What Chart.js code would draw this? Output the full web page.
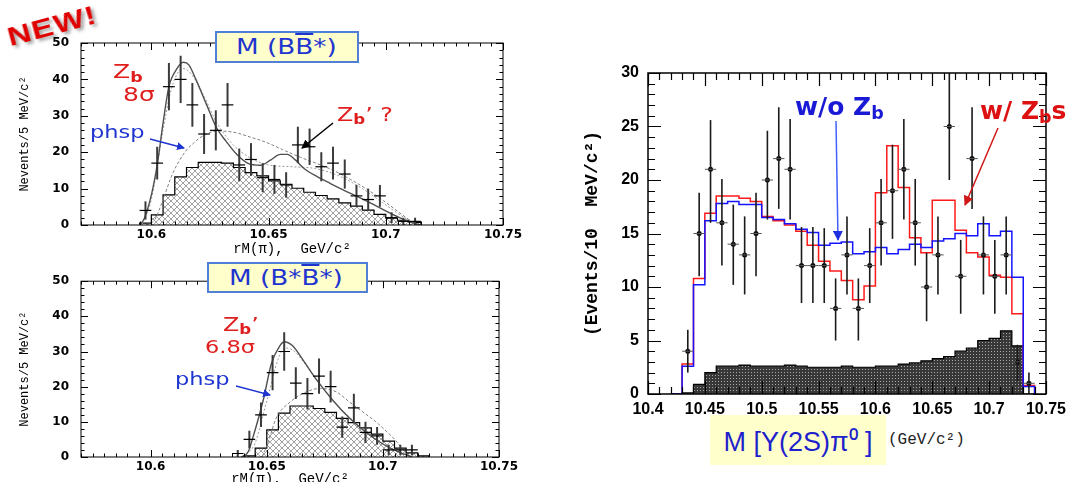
<!DOCTYPE html>
<html>
<head>
<meta charset="utf-8">
<script src="https://cdn.jsdelivr.net/npm/chart.js@4.4.0/dist/chart.umd.min.js"></script>
<style>
body { margin: 0; width: 1072px; height: 482px; overflow: hidden; background: #fff; position: relative; font-family: 'DejaVu Sans', sans-serif; }
canvas { position: absolute; }
#c1 { left: 0; top: 0; }
#c2 { left: 0; top: 262px; }
#c3 { left: 570px; top: 50px; }
.ov { position: absolute; white-space: nowrap; line-height: 1; }
.sx { display: inline-block; transform: scaleX(1.25); transform-origin: 0 50%; }
.red { color: #e01e1e; }
.blue { color: #1f35d0; }
sub { font-size: 0.7em; vertical-align: -0.25em; font-weight: bold; }
.box { position: absolute; background: #ffffcc; border: 2px solid #4f7fd6; box-sizing: border-box; color: #1f35d0; font-size: 21px; display: flex; align-items: center; justify-content: center; }
.ob { text-decoration: overline; }
#new { left: 12px; top: 22px; font: bold 26px 'Liberation Sans', sans-serif; color: #e00000; transform: rotate(-15deg) scaleX(1.25); transform-origin: 0 100%; text-shadow: 2px 3px 3px rgba(0,0,0,0.35); letter-spacing: 1px; }
#mass { position: absolute; left: 710px; top: 415px; width: 176px; height: 50px; background: #ffffcc; color: #1f1fcc; font: 27px 'Liberation Sans', sans-serif; display: flex; align-items: center; justify-content: center; }
#unit { left: 888px; top: 431px; font: 16px 'Liberation Mono', monospace; color: #222; }
svg { position: absolute; left: 0; top: 0; }
</style>
</head>
<body>
<canvas id="c1" width="530" height="260"></canvas>
<canvas id="c2" width="530" height="230"></canvas>
<canvas id="c3" width="502" height="380"></canvas>

<div class="ov" id="new">NEW!</div>
<div class="box" style="left:215px;top:31px;width:144px;height:32px;"><span class="sx" style="margin-left:-22px">M (B<span class="ob">B</span>*)</span></div>
<div class="box" style="left:207px;top:262px;width:161px;height:31px;"><span class="sx" style="margin-left:-26px">M (B*<span class="ob">B</span>*)</span></div>

<div class="ov red" style="left:113px;top:61px;font-size:20px;"><span class="sx">Z<sub>b</sub></span></div>
<div class="ov red" style="left:123px;top:84px;font-size:20px;"><span class="sx">8σ</span></div>
<div class="ov blue" style="left:90px;top:123px;font-size:18px;"><span class="sx">phsp</span></div>
<div class="ov red" style="left:337px;top:105px;font-size:19px;"><span class="sx">Z<sub>b</sub>’ ?</span></div>

<div class="ov red" style="left:223px;top:315px;font-size:19px;"><span class="sx">Z<sub>b</sub>’</span></div>
<div class="ov red" style="left:205px;top:338px;font-size:18px;"><span class="sx">6.8σ</span></div>
<div class="ov blue" style="left:175px;top:370px;font-size:18px;"><span class="sx">phsp</span></div>

<div class="ov" style="left:795px;top:92px;font:bold 25px 'DejaVu Sans',sans-serif;color:#1a1ad6;">w/o Z<sub>b</sub></div>
<div class="ov" style="left:980px;top:96px;font:bold 25px 'DejaVu Sans',sans-serif;color:#dd1111;">w/ Z<sub>b</sub>s</div>

<div id="mass">M [Υ(2S)π⁰ ]</div>
<div class="ov" id="unit">(GeV/c²)</div>

<svg width="1072" height="482">
  <defs>
    <marker id="ab" markerWidth="8" markerHeight="8" refX="7" refY="4" orient="auto" markerUnits="userSpaceOnUse"><path d="M0,0 L8,4 L0,8 z" fill="#1f35d0"/></marker>
    <marker id="ak" markerWidth="9" markerHeight="9" refX="8" refY="4.5" orient="auto" markerUnits="userSpaceOnUse"><path d="M0,0 L9,4.5 L0,9 z" fill="#000"/></marker>
    <marker id="ar" markerWidth="10" markerHeight="10" refX="9" refY="5" orient="auto" markerUnits="userSpaceOnUse"><path d="M0,0 L10,5 L0,10 z" fill="#d01818"/></marker>
    <marker id="ab2" markerWidth="10" markerHeight="10" refX="9" refY="5" orient="auto" markerUnits="userSpaceOnUse"><path d="M0,0 L10,5 L0,10 z" fill="#2030e0"/></marker>
  </defs>
  <line x1="150" y1="139" x2="184" y2="148" stroke="#1f35d0" stroke-width="1.5" marker-end="url(#ab)"/>
  <line x1="333" y1="123" x2="302" y2="148" stroke="#000" stroke-width="1.5" marker-end="url(#ak)"/>
  <line x1="236" y1="386" x2="270" y2="395" stroke="#1f35d0" stroke-width="1.5" marker-end="url(#ab)"/>
  <line x1="836" y1="121" x2="838" y2="240" stroke="#4060ff" stroke-width="1.5" marker-end="url(#ab2)"/>
  <line x1="998" y1="128" x2="965" y2="205" stroke="#d01818" stroke-width="1.5" marker-end="url(#ar)"/>
</svg>

<script>
// ---- M(B B*) panel ----
const tlMass = [10.5975, 10.6025, 10.6075, 10.6125, 10.6175, 10.6225, 10.6275, 10.6325, 10.6375, 10.6425, 10.6475, 10.6525,
                10.6575, 10.6625, 10.6675, 10.6725, 10.6775, 10.6825, 10.6875, 10.6925, 10.6975, 10.7025, 10.7075, 10.7125];
const tlEvents = [4, 17, 38, 40, 33, 25, 26, 33, 16.5, 18, 13, 12.5, 11, 22, 21.5, 16, 17, 14, 8, 7, 8, 2, 1, 1];
const tlErr = [2.5, 4.5, 6.5, 6.5, 6, 5.5, 5.5, 6, 4.5, 4.5, 4, 4, 3.5, 5, 5, 4, 4.5, 4, 3, 3, 3, 1.5, 1, 1];
const tlEdges = [10.595, 10.6, 10.605, 10.61, 10.615, 10.62, 10.625, 10.63, 10.635, 10.64, 10.645, 10.65, 10.655,
                 10.66, 10.665, 10.67, 10.675, 10.68, 10.685, 10.69, 10.695, 10.7, 10.705, 10.71, 10.715];
const tlHist = [0.5, 2.8, 8.3, 13.2, 15.8, 17.2, 17.2, 17, 15.8, 14.4, 13.5, 12.1, 11.2, 10.1, 9, 8.1, 7.2, 6.1, 5.2, 4.1, 2.9, 1.9, 1.3, 0.7];
const tlFitX = [10.595, 10.597, 10.6, 10.6025, 10.605, 10.6075, 10.611, 10.6136, 10.616, 10.619, 10.6236, 10.628, 10.632, 10.636, 10.641,
                10.6465, 10.651, 10.655, 10.658, 10.6614, 10.665, 10.6707, 10.6764, 10.682, 10.688, 10.6936, 10.6993, 10.705, 10.7107, 10.715];
const tlFitY = [0, 1.8, 8.2, 16.5, 28, 38, 43, 44.7, 44, 40, 33, 26.5, 22.9, 19.7, 17, 16.4, 17.9, 19.4, 19.4, 17.9, 15.6, 13.3, 11.4, 9.6, 7.8, 6, 4.1, 2.3, 0.7, 0];
const tlAltX = [10.596, 10.6, 10.605, 10.608, 10.611, 10.6136, 10.617, 10.622, 10.628, 10.635, 10.642, 10.65, 10.66, 10.67, 10.68, 10.69, 10.7, 10.708, 10.714];
const tlAltY = [0, 7, 26, 36, 41.5, 43, 41.5, 36, 28, 22, 18.5, 16.5, 16, 15.5, 13.5, 10, 5.5, 2, 0];
const tlPhspX = [10.598, 10.6015, 10.605, 10.609, 10.6143, 10.618, 10.622, 10.628, 10.635, 10.642, 10.649, 10.656, 10.6636, 10.671, 10.678, 10.685, 10.692, 10.699, 10.706, 10.713];
const tlPhspY = [0, 1.5, 7, 14, 20, 22.5, 24.5, 25.8, 25.5, 24.2, 22.7, 20.7, 18.6, 16.8, 14.9, 12.5, 9.8, 6.7, 3.3, 0];

// ---- M(B* B*) panel ----
const blMass = [10.6375, 10.6425, 10.6475, 10.6525, 10.6575, 10.6625, 10.6675, 10.6725, 10.6775, 10.6825, 10.6875, 10.6925, 10.6975, 10.7025, 10.7075, 10.7125];
const blEvents = [1, 5, 12, 24, 30, 21, 18, 23, 20, 8.5, 14, 7, 6, 2, 2, 2];
const blErr = [1, 2.5, 3.5, 5, 5.5, 4.5, 4.5, 5, 4.5, 3, 4, 3, 2.5, 1.5, 1.5, 1.5];
const blEdges = [10.64, 10.645, 10.65, 10.655, 10.66, 10.665, 10.67, 10.675, 10.68, 10.685, 10.69, 10.695, 10.7, 10.705, 10.71, 10.715, 10.72];
const blHist = [0.3, 2.5, 7.7, 12.5, 14.5, 14.5, 13.8, 12.7, 11, 9.8, 8.3, 6.5, 4.5, 2.5, 1.2, 0.3];
const blFitX = [10.639, 10.642, 10.644, 10.6486, 10.652, 10.6557, 10.6575, 10.661, 10.6657, 10.6714, 10.6786, 10.6857, 10.6929, 10.7, 10.707, 10.7126];
const blFitY = [0, 1.5, 5.5, 16.5, 26.6, 31.7, 32.8, 31.7, 27.5, 22, 16, 11, 6.9, 3.7, 1.4, 0];
const blAltX = [10.64, 10.645, 10.65, 10.655, 10.658, 10.662, 10.667, 10.673, 10.68, 10.687, 10.694, 10.701, 10.708, 10.714];
const blAltY = [0, 4, 16, 28, 31, 30, 26, 20.5, 15, 10.5, 6.5, 3.5, 1, 0];
const blPhspX = [10.648, 10.651, 10.654, 10.66, 10.667, 10.673, 10.68, 10.6857, 10.692, 10.697, 10.702, 10.7056, 10.711];
const blPhspY = [0, 5, 11, 15.6, 18.5, 19.5, 18.5, 15.6, 12.5, 10, 7, 4.6, 0];

const leftXTicks = [10.6, 10.65, 10.7, 10.75];
const leftYTicks = [0, 10, 20, 30, 40, 50];

// ---- M[Y(2S) pi0] panel ----
const rMass = [10.435, 10.445, 10.455, 10.465, 10.475, 10.485, 10.495, 10.505, 10.515, 10.525, 10.535, 10.545, 10.555, 10.565, 10.575, 10.585,
               10.595, 10.605, 10.615, 10.625, 10.635, 10.645, 10.655, 10.665, 10.675, 10.685, 10.695, 10.705, 10.715, 10.725, 10.735];
const rEvents = [4, 15, 21, 16, 14, 13, 15, 20, 22, 21, 12, 12, 12, 8, 13, 8, 12, 16, 19, 21, 16, 10, 13, 25, 11, 22, 13, 11, 13, 3, 1];
const rErrHi = [6, 18.8, 25.6, 20.1, 17.7, 16.6, 18.8, 24.6, 26.8, 25.7, 15.6, 15.6, 15.5, 10.8, 16.6, 10.8, 15.5, 20.1, 23.3, 25.7, 20.1,
                13.2, 16.6, 30.5, 14.4, 26.8, 16.6, 14.4, 16.6, 4.6, 2];
const rErrLo = [2, 11, 16, 12, 10.2, 9.3, 11, 16.3, 17.3, 16.3, 8.5, 8.5, 8.5, 5, 9.3, 5, 8.5, 12, 14.5, 16.3, 12, 6.8, 9.3, 20, 7.5, 17.3,
                9.3, 7.5, 9.3, 1.2, 0];
const rEdges = [10.42, 10.43, 10.44, 10.45, 10.46, 10.47, 10.48, 10.49, 10.5, 10.51, 10.52, 10.53, 10.54, 10.55, 10.56, 10.57, 10.58,
                10.59, 10.6, 10.61, 10.62, 10.63, 10.64, 10.65, 10.66, 10.67, 10.68, 10.69, 10.7, 10.71, 10.72, 10.73, 10.74];
const rNoZb = [0, 2.6, 10.2, 16.2, 17.8, 18.0, 17.7, 17.7, 16.5, 16.3, 15.9, 15.4, 15.1, 13.9, 14.1, 14.2, 13.1, 13.3, 13.7, 13.1, 13.5,
               14.0, 13.7, 14.3, 14.5, 15.0, 14.8, 15.9, 14.8, 15.2, 10.9, 0.7];
const rWithZb = [0, 2.8, 10.8, 16.9, 18.5, 18.5, 18.3, 18.0, 16.6, 16.2, 15.8, 15.2, 13.9, 12.4, 11.5, 10.6, 8.8, 10.1, 18.8, 23.2, 19.3,
                 14.6, 13.2, 18.1, 18.1, 15.3, 13.2, 12.8, 11.1, 10.9, 7.5, 0.8];
const rBkg = [0, 0.1, 0.9, 2.0, 2.6, 2.6, 2.7, 2.6, 2.6, 2.6, 2.7, 2.6, 2.5, 2.5, 2.5, 2.6, 2.5, 2.5, 2.6, 2.6, 2.8, 2.9, 3.1, 3.3, 3.5,
              4.0, 4.3, 5.0, 5.2, 5.9, 4.5, 0];
const rXTicks = [10.4, 10.45, 10.5, 10.55, 10.6, 10.65, 10.7, 10.75];
const rYTicks = [0, 5, 10, 15, 20, 25, 30];

Chart.defaults.font.family = "'Liberation Sans', sans-serif";

function steps(edges, vals) {
    const pts = [{ x: edges[0], y: 0 }];
    vals.forEach((v, i) => pts.push({ x: edges[i], y: v }));
    pts.push({ x: edges[edges.length - 1], y: 0 });
    return pts;
}
const xy = (xs, ys) => xs.map((x, i) => ({ x: x, y: ys[i] }));

function crossHatch() {
    const c = document.createElement('canvas');
    c.width = 6; c.height = 6;
    const g = c.getContext('2d');
    g.fillStyle = '#fff'; g.fillRect(0, 0, 6, 6);
    g.strokeStyle = '#8c8c8c'; g.lineWidth = 0.8;
    g.beginPath();
    g.moveTo(0, 0); g.lineTo(6, 6);
    g.moveTo(0, 6); g.lineTo(6, 0);
    g.stroke();
    return g.createPattern(c, 'repeat');
}
function darkDots() {
    const c = document.createElement('canvas');
    c.width = 3; c.height = 3;
    const g = c.getContext('2d');
    g.fillStyle = '#383838'; g.fillRect(0, 0, 3, 3);
    g.fillStyle = '#a8a8a8'; g.fillRect(1, 1, 1, 1);
    return g.createPattern(c, 'repeat');
}

// error bars with horizontal bin-width bars
const errorBars = {
    id: 'errorBars',
    afterDatasetsDraw(chart) {
        const { ctx, chartArea: a, scales: { x, y } } = chart;
        ctx.save();
        ctx.beginPath();
        ctx.rect(a.left, a.top, a.right - a.left, a.bottom - a.top);
        ctx.clip();
        chart.data.datasets.forEach(ds => {
            if (!ds.err) return;
            const e = ds.err;
            ds.data.forEach((p, i) => {
                const px = x.getPixelForValue(p.x);
                const py = y.getPixelForValue(p.y);
                ctx.strokeStyle = e.vColor; ctx.lineWidth = e.vWidth;
                ctx.beginPath();
                ctx.moveTo(px, y.getPixelForValue(e.lo[i]));
                ctx.lineTo(px, y.getPixelForValue(e.hi[i]));
                ctx.stroke();
                ctx.strokeStyle = e.hColor; ctx.lineWidth = e.hWidth;
                ctx.beginPath();
                ctx.moveTo(x.getPixelForValue(p.x - e.half), py);
                ctx.lineTo(x.getPixelForValue(p.x + e.half), py);
                ctx.stroke();
            });
        });
        ctx.restore();
    }
};

// frame with inward ticks on all four sides
const frameTicks = {
    id: 'frameTicks',
    afterDatasetsDraw(chart, args, o) {
        const { ctx, chartArea: a, scales: { x, y } } = chart;
        const marks = (step, from, to) => {
            const out = [];
            for (let k = Math.ceil(from / step - 1e-6); k * step <= to + 1e-9; k++) out.push(k * step);
            return out;
        };
        const isMajor = (v, m) => Math.abs(v / m - Math.round(v / m)) < 1e-6;
        ctx.save();
        ctx.strokeStyle = '#000';
        ctx.lineWidth = o.width;
        ctx.strokeRect(a.left, a.top, a.right - a.left, a.bottom - a.top);
        ctx.lineWidth = o.tickWidth;
        ctx.beginPath();
        marks(o.xMinor, x.min, x.max).forEach(v => {
            const px = Math.round(x.getPixelForValue(v)) + 0.5;
            const len = isMajor(v, o.xMajor) ? o.majorLen : o.minorLen;
            ctx.moveTo(px, a.bottom); ctx.lineTo(px, a.bottom - len);
            ctx.moveTo(px, a.top); ctx.lineTo(px, a.top + len);
        });
        marks(o.yMinor, y.min, y.max).forEach(v => {
            const py = Math.round(y.getPixelForValue(v)) + 0.5;
            const len = isMajor(v, o.yMajor) ? o.majorLen : o.minorLen;
            ctx.moveTo(a.left, py); ctx.lineTo(a.left + len, py);
            ctx.moveTo(a.right, py); ctx.lineTo(a.right - len, py);
        });
        ctx.stroke();
        ctx.restore();
    }
};

function leftPanel(id, pad, d) {
    const hatch = crossHatch();
    return new Chart(document.getElementById(id), {
        type: 'line',
        data: {
            datasets: [
                {
                    type: 'scatter', data: xy(d.mass, d.events), pointRadius: 0, order: 0,
                    err: { lo: d.events.map((v, i) => v - d.err[i]), hi: d.events.map((v, i) => v + d.err[i]),
                           half: 0.0025, vColor: '#3a3a3a', vWidth: 2, hColor: '#000', hWidth: 1.2 }
                },
                { data: xy(d.fitX, d.fitY), borderColor: '#505050', borderWidth: 1.4, pointRadius: 0, cubicInterpolationMode: 'monotone', order: 1 },
                { data: xy(d.altX, d.altY), borderColor: '#9a9a9a', borderWidth: 1, borderDash: [2, 2], pointRadius: 0, cubicInterpolationMode: 'monotone', order: 2 },
                { data: xy(d.phspX, d.phspY), borderColor: '#808080', borderWidth: 1, borderDash: [3, 2], pointRadius: 0, cubicInterpolationMode: 'monotone', order: 3 },
                { data: steps(d.edges, d.hist), stepped: true, borderColor: '#000', borderWidth: 1.2, pointRadius: 0,
                  fill: 'origin', backgroundColor: hatch, order: 4 }
            ]
        },
        options: {
            responsive: false,
            animation: false,
            layout: { padding: pad },
            plugins: {
                legend: { display: false },
                tooltip: { enabled: false },
                frameTicks: { width: 1, tickWidth: 1, xMinor: 0.005, xMajor: 0.05, yMinor: 2, yMajor: 10, minorLen: 3.5, majorLen: 7 }
            },
            scales: {
                x: {
                    type: 'linear', min: 10.57, max: 10.75,
                    grid: { display: false, drawTicks: false }, border: { display: false },
                    afterFit: s => { s.height = d.xH; },
                    afterBuildTicks: s => { s.ticks = leftXTicks.map(v => ({ value: v })); },
                    ticks: { padding: 3, maxRotation: 0, autoSkip: false, color: '#000',
                             font: { family: "'DejaVu Sans', sans-serif", size: 12, weight: 'bold' }, callback: v => String(v) },
                    title: { display: true, text: 'rM(π),  GeV/c²', color: '#000', padding: { top: 0, bottom: d.titlePad },
                             font: { family: "'Liberation Mono', monospace", size: 14 } }
                },
                y: {
                    min: 0, max: 50,
                    grid: { display: false, drawTicks: false }, border: { display: false },
                    afterFit: s => { s.width = 81; },
                    afterBuildTicks: s => { s.ticks = leftYTicks.map(v => ({ value: v })); },
                    ticks: { padding: 12, color: '#000', font: { family: "'DejaVu Sans', sans-serif", size: 12, weight: 'bold' } },
                    title: { display: true, text: 'Nevents/5 MeV/c²', color: '#000', padding: { top: 18, bottom: 0 },
                             font: { family: "'Liberation Mono', monospace", size: 12 } }
                }
            }
        },
        plugins: [errorBars, frameTicks]
    });
}

leftPanel('c1', { top: 43, right: 27, left: 0, bottom: 0 }, {
    mass: tlMass, events: tlEvents, err: tlErr, edges: tlEdges, hist: tlHist,
    fitX: tlFitX, fitY: tlFitY, altX: tlAltX, altY: tlAltY, phspX: tlPhspX, phspY: tlPhspY, xH: 35, titlePad: 2
});
leftPanel('c2', { top: 14, right: 31, left: 0, bottom: 0 }, {
    mass: blMass, events: blEvents, err: blErr, edges: blEdges, hist: blHist,
    fitX: blFitX, fitY: blFitY, altX: blAltX, altY: blAltY, phspX: blPhspX, phspY: blPhspY, xH: 35, titlePad: 4
});

new Chart(document.getElementById('c3'), {
    type: 'line',
    data: {
        datasets: [
            {
                type: 'scatter', data: xy(rMass, rEvents), pointRadius: 2.5, pointBackgroundColor: '#000', pointBorderWidth: 0, order: 0,
                err: { lo: rErrLo, hi: rErrHi, half: 0.005, vColor: '#1a1a1a', vWidth: 1.6, hColor: '#555', hWidth: 1 }
            },
            { data: steps(rEdges, rNoZb), stepped: true, borderColor: '#1414ff', borderWidth: 1.5, pointRadius: 0, order: 1 },
            { data: steps(rEdges, rWithZb), stepped: true, borderColor: '#ff1a1a', borderWidth: 1.5, pointRadius: 0, order: 2 },
            { data: steps(rEdges, rBkg), stepped: true, borderColor: '#000', borderWidth: 1.2, pointRadius: 0,
              fill: 'origin', backgroundColor: darkDots(), order: 3 }
        ]
    },
    options: {
        responsive: false,
        animation: false,
        layout: { padding: { top: 23, right: 21, left: 0, bottom: 0 } },
        plugins: {
            legend: { display: false },
            tooltip: { enabled: false },
            frameTicks: { width: 1.5, tickWidth: 1.2, xMinor: 0.01, xMajor: 0.05, yMinor: 1, yMajor: 5, minorLen: 7, majorLen: 13 }
        },
        scales: {
            x: {
                type: 'linear', min: 10.4, max: 10.75,
                grid: { display: false, drawTicks: false }, border: { display: false },
                afterFit: s => { s.height = 36; },
                afterBuildTicks: s => { s.ticks = rXTicks.map(v => ({ value: v })); },
                ticks: { padding: 6, maxRotation: 0, autoSkip: false, color: '#000',
                         font: { size: 16, weight: 'bold' }, callback: v => String(v) }
            },
            y: {
                min: 0, max: 30,
                grid: { display: false, drawTicks: false }, border: { display: false },
                afterFit: s => { s.width = 78; },
                afterBuildTicks: s => { s.ticks = rYTicks.map(v => ({ value: v })); },
                ticks: { padding: 9, color: '#000', font: { size: 16, weight: 'bold' } },
                title: { display: true, text: '(Events/10  MeV/c²)', color: '#000', padding: { top: 12, bottom: 0 },
                         font: { family: "'Liberation Mono', monospace", size: 18, weight: 'bold' } }
            }
        }
    },
    plugins: [errorBars, frameTicks]
});
</script>
</body>
</html>
